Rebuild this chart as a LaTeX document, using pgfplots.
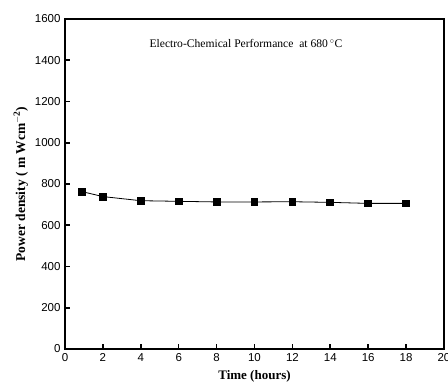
\documentclass[border=0pt]{standalone}
\usepackage{pgfplots}
\pgfplotsset{compat=1.18}
\usepackage{fontspec}
\setmainfont{Liberation Serif}
\newfontfamily\arial{Liberation Sans}
\begin{document}
\begin{tikzpicture}[x=1pt,y=1pt]
\begin{axis}[
  name=ax,
  at={(0,0)}, anchor=south west,
  scale only axis,
  width=379pt, height=330pt,
  xmin=0, xmax=20, ymin=0, ymax=1600,
  xtick={0,2,...,20}, ytick={0,200,...,1600},
  tick pos=left, tick align=inside,
  major tick length=5pt,
  axis line style={line width=1.6pt},
  every tick/.style={line width=1.6pt, black},
  /pgf/number format/assume math mode=true,
  /pgf/number format/1000 sep={},
  ticklabel style={font=\arial\fontsize{11.5}{13}\selectfont},
  xticklabel style={yshift=-1pt},
  yticklabel style={xshift=-1pt},
  xlabel={\textbf{Time (hours)}},
  ylabel={\textbf{Power density ( m Wcm$^{\mathbf{-2}}$)}},
  xlabel style={font=\fontsize{13}{15}\selectfont, yshift=-2pt},
  ylabel style={font=\fontsize{13.5}{15}\selectfont, yshift=0pt},
]
\addplot[black, line width=0.8pt, mark=square*, mark size=3.4pt,
  mark options={solid, fill=black}] coordinates {
  (0.9,763) (2,739) (4,719) (6,716) (8,713) (10,713) (12,714) (14,711) (16,706) (18,706)
};
\node[font=\fontsize{11.6}{13}\selectfont] at (axis cs:9.55,1479) {Electro-Chemical Performance\ \ at 680\,$^{\circ}$C};
\end{axis}
\pgfresetboundingbox
\path[use as bounding box] (-65pt,-34pt) rectangle (383pt,349pt);
\end{tikzpicture}
\end{document}
